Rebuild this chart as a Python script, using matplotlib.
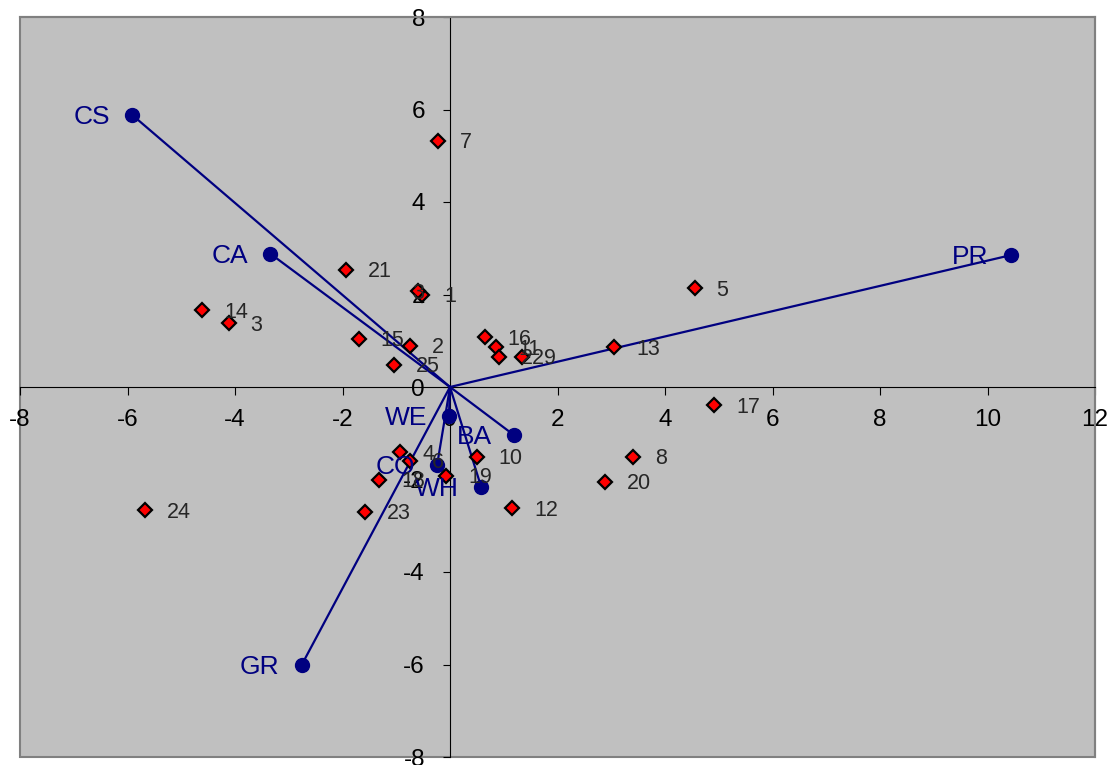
import matplotlib
matplotlib.use("Agg")
import matplotlib.pyplot as plt
from matplotlib.patches import Rectangle

# ---- data ----
vec_labels = ['CS', 'CA', 'PR', 'WE', 'BA', 'CO', 'WH', 'GR']
vec_x = [-5.91, -3.34, 10.43, -0.02, 1.19, -0.24, 0.58, -2.76]
vec_y = [5.88, 2.88, 2.85, -0.63, -1.04, -1.69, -2.16, -6.01]

pt_labels = ['1', '2', '3', '4', '5', '6', '7', '8', '9', '10', '11', '12', '13',
             '14', '15', '16', '17', '18', '19', '20', '21', '22', '23', '24', '25', '3']
pt_x = [-0.52, -0.75, -4.12, -0.93, 4.55, -0.75, -0.22, 3.40, 1.34, 0.50, 0.86, 1.16, 3.06,
        -4.61, -1.70, 0.65, 4.91, -1.32, -0.07, 2.89, -1.94, 0.91, -1.59, -5.67, -1.04, -0.60]
pt_y = [2.00, 0.89, 1.38, -1.41, 2.14, -1.60, 5.32, -1.51, 0.65, -1.51, 0.86, -2.62, 0.86,
        1.66, 1.04, 1.08, -0.39, -2.01, -1.92, -2.05, 2.53, 0.65, -2.70, -2.66, 0.48, 2.07]

x_ticks = [-8, -6, -4, -2, 0, 2, 4, 6, 8, 10, 12]
y_ticks = [-8, -6, -4, -2, 0, 2, 4, 6, 8]

W, H = 1114, 765
fig = plt.figure(figsize=(W / 100, H / 100), dpi=100)
ax = fig.add_axes([20 / W, 1 - 757 / H, (1095 - 20) / W, (757 - 17) / H])
ax.set_facecolor('#C0C0C0')
ax.set_xlim(-8, 12)
ax.set_ylim(-8, 8)

navy = '#000080'
font = 'Liberation Sans'

# axes through origin
for s in ['top', 'right']:
    ax.spines[s].set_color('#808080')
    ax.spines[s].set_linewidth(1.5)
ax.spines['left'].set_position(('data', 0))
ax.spines['bottom'].set_position(('data', 0))
ax.spines['left'].set_color('black')
ax.spines['bottom'].set_color('black')
ax.spines['left'].set_linewidth(0.8)
ax.spines['bottom'].set_linewidth(0.8)
ax.add_patch(Rectangle((0, 0), 1, 1, transform=ax.transAxes, fill=False,
                       edgecolor='#808080', lw=1.5, zorder=0.5, clip_on=False))

ax.set_xticks(x_ticks)
ax.set_yticks(y_ticks)
ax.set_xticklabels([str(v) for v in x_ticks])
ax.set_yticklabels([str(v) for v in y_ticks])
ax.tick_params(axis='x', direction='out', length=6, width=0.8, pad=10, labelsize=17.5)
ax.tick_params(axis='y', direction='out', length=5, width=0.8, pad=13, labelsize=17.5)
for lab in ax.get_xticklabels() + ax.get_yticklabels():
    lab.set_family(['Liberation Sans Narrow', font])
for lab in ax.get_xticklabels():
    lab.set_zorder(1)

# vectors
for lx, ly, name in zip(vec_x, vec_y, vec_labels):
    ax.plot([0, lx], [0, ly], color=navy, lw=1.6, zorder=3)
    ax.plot([lx], [ly], 'o', color=navy, ms=10, zorder=4)
    ax.annotate(name, (lx, ly), xytext=(-22, -2), textcoords='offset pixels',
                ha='right', va='center', color=navy, fontsize=19, family=font, zorder=6)

# points
ax.plot(pt_x, pt_y, 'D', mfc='red', mec='black', mew=1.6, ms=7.5, ls='none', zorder=5)
n_regular = 25
for i, (px, py, name) in enumerate(zip(pt_x, pt_y, pt_labels)):
    if i < n_regular:
        ax.annotate(name, (px, py), xytext=(22, -2), textcoords='offset pixels',
                    ha='left', va='center', color='#262626', fontsize=15.5, family=font, zorder=6)
    else:
        # label drawn over its own marker, as in the reference
        ax.annotate(name, (px, py), xytext=(0, -2), textcoords='offset pixels',
                    ha='center', va='center', color='#262626', fontsize=15.5, family=font, zorder=6)

fig.savefig('out.png', dpi=100)
